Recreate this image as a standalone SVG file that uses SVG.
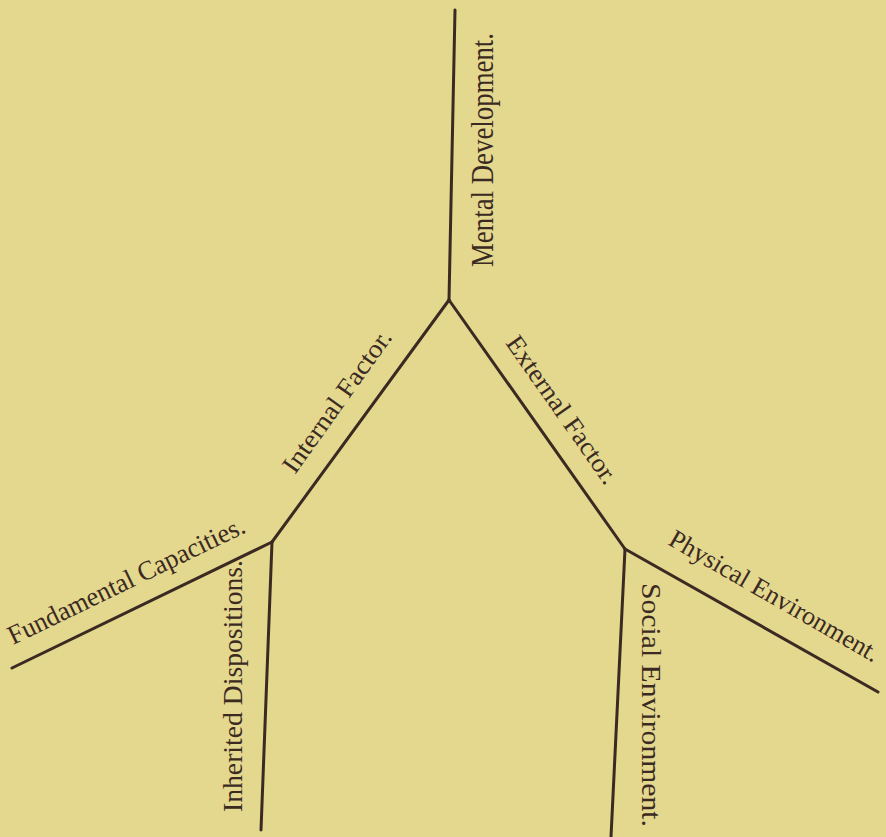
<svg xmlns="http://www.w3.org/2000/svg" width="886" height="837" viewBox="0 0 886 837">
<style>
.bg{fill:#e4d78e}
.ln{stroke:#3a2a22;stroke-width:3;fill:none;stroke-linecap:round;stroke-linejoin:round}
.lbl{font-family:"Liberation Serif","Times New Roman",serif;fill:#3a2a22}
</style>
<rect class="bg" x="0" y="0" width="886" height="837"/>
<g id="connectors">
<polyline class="ln" points="455,10 449,300"/>
<polyline class="ln" points="449,300 272,542"/>
<polyline class="ln" points="449,300 625,549"/>
<polyline class="ln" points="272,542 12,668"/>
<polyline class="ln" points="272,542 261,830"/>
<polyline class="ln" points="625,549 611,837"/>
<polyline class="ln" points="625,549 878,692"/>
</g>
<g id="mental-development">
<text class="lbl" font-size="31" textLength="234" lengthAdjust="spacingAndGlyphs" transform="translate(493,267) rotate(-90)">Mental Development.</text>
</g>
<g id="internal-factor">
<text class="lbl" font-size="26" textLength="169" lengthAdjust="spacingAndGlyphs" transform="translate(295,475) rotate(-54.6)">Internal Factor.</text>
</g>
<g id="external-factor">
<text class="lbl" font-size="26" textLength="175" lengthAdjust="spacingAndGlyphs" transform="translate(505,343) rotate(55)">External Factor.</text>
</g>
<g id="fundamental-capacities">
<text class="lbl" font-size="27" textLength="260" lengthAdjust="spacingAndGlyphs" transform="translate(13,645) rotate(-25.8)">Fundamental Capacities.</text>
</g>
<g id="physical-environment">
<text class="lbl" font-size="26" textLength="238" lengthAdjust="spacingAndGlyphs" transform="translate(667,544) rotate(29.9)">Physical Environment.</text>
</g>
<g id="inherited-dispositions">
<text class="lbl" font-size="28" textLength="252" lengthAdjust="spacingAndGlyphs" transform="translate(242,812) rotate(-90)">Inherited Dispositions.</text>
</g>
<g id="social-environment">
<text class="lbl" font-size="28" textLength="244" lengthAdjust="spacingAndGlyphs" transform="translate(642,583) rotate(90)">Social Environment.</text>
</g>
</svg>
